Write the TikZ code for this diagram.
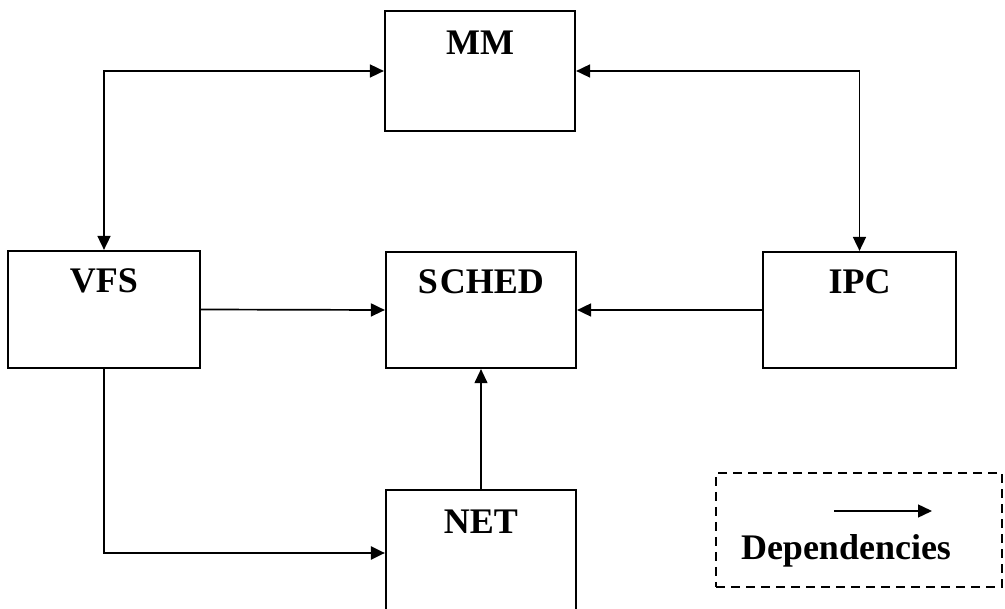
\documentclass[tikz,border=0pt]{standalone}
\usepackage{fontspec}
\setmainfont{Liberation Serif}
\usetikzlibrary{arrows.meta}
\begin{document}
\begin{tikzpicture}[x=1pt,y=-1pt,
  box/.style={draw, line width=2.2pt, rectangle, inner sep=0pt},
  lbl/.style={anchor=base, inner sep=0pt, font=\fontsize{36}{40}\selectfont\bfseries},
  tip/.tip={Triangle[length=14pt,width=13pt]},
  conn/.style={line width=1.7pt, -tip},
  biconn/.style={line width=1.7pt, tip-tip}
]
\useasboundingbox (0,0) rectangle (1005,609);
\clip (0,0) rectangle (1005,609);
\node[box, minimum width=190pt, minimum height=120pt] (MM) at (480,71) {};
\node[box, minimum width=192pt, minimum height=117pt] (VFS) at (104,309.5) {};
\node[box, minimum width=190pt, minimum height=116pt] (SCHED) at (481,310) {};
\node[box, minimum width=193pt, minimum height=116pt] (IPC) at (859.5,310) {};
\node[box, minimum width=190pt, minimum height=150pt] (NET) at (481,565) {};
\node[lbl] (MMl) at (480,55) {MM};
\node[lbl] (VFSl) at (104,293) {VFS};
\node[lbl] (SCHEDl) at (481,294) {S\kern2pt CHED};
\node[lbl] (IPCl) at (859.5,294) {IPC};
\node[lbl] (NETl) at (481,534) {NET};
\draw[biconn] (VFS.north) |- (MM.west);
\draw[biconn] (MM.east) -| (IPC.north);
\draw[conn] (VFS.east) -- (SCHED.west);
\draw[conn] (IPC.west) -- (SCHED.east);
\draw[conn, line width=1.1pt] (NET.north) -- (SCHED.south);
\coordinate (netin) at ([yshift=12pt]NET.west);
\draw[conn, line width=2.3pt] (VFS.south) |- (netin);
\node[draw, dash pattern=on 9pt off 6pt, line width=1.8pt, minimum width=286pt, minimum height=114pt, inner sep=0pt] (legend) at (859,530) {};
\coordinate (la) at (834,511);
\coordinate (lb) at (932,511);
\draw[conn, line width=1.4pt] (la) -- (lb);
\node[lbl] (legl) at (846,560) {Dependencies};
\end{tikzpicture}
\end{document}
